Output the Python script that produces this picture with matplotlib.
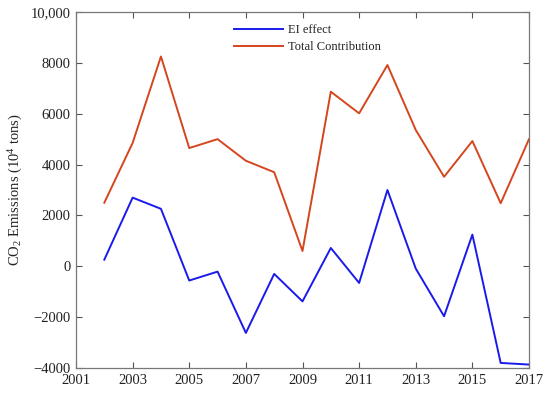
import matplotlib
matplotlib.use("Agg")
import matplotlib.pyplot as plt
from matplotlib.ticker import FuncFormatter

years = [2002, 2003, 2004, 2005, 2006, 2007, 2008, 2009, 2010, 2011, 2012, 2013, 2014, 2015, 2016, 2017]
ei_effect = [260, 2700, 2260, -560, -210, -2620, -300, -1380, 720, -655, 3000, -90, -1965, 1245, -3800, -3865]
total_contribution = [2500, 4850, 8250, 4650, 5000, 4150, 3700, 600, 6865, 6015, 7915, 5360, 3520, 4925, 2480, 5000]

xticks = [2001, 2003, 2005, 2007, 2009, 2011, 2013, 2015, 2017]
yticks = [-4000, -2000, 0, 2000, 4000, 6000, 8000, 10000]

plt.rcParams['font.family'] = ['Liberation Serif', 'DejaVu Serif']
plt.rcParams['axes.unicode_minus'] = True
plt.rcParams['mathtext.fontset'] = 'custom'
plt.rcParams['mathtext.rm'] = 'Liberation Serif'
plt.rcParams['mathtext.it'] = 'Liberation Serif:italic'
plt.rcParams['mathtext.bf'] = 'Liberation Serif:bold'

fig = plt.figure(figsize=(5.5, 3.97), dpi=100)
ax = fig.add_axes([76/550, 1 - 368/397, (529-76)/550, (368-12)/397])

ax.plot(years, ei_effect, color='#1a1aeb', lw=1.4, label='EI effect')
ax.plot(years, total_contribution, color='#d4461e', lw=1.4, label='Total Contribution')

ax.set_xlim(2001, 2017)
ax.set_ylim(-4000, 10000)
ax.set_xticks(xticks)
ax.set_yticks(yticks)

def yfmt(v, pos):
    v = int(round(v))
    if abs(v) >= 10000:
        s = f"{abs(v):,}"
    else:
        s = f"{abs(v)}"
    return ("\u2212" if v < 0 else "") + s

ax.yaxis.set_major_formatter(FuncFormatter(yfmt))
ax.tick_params(direction='in', top=True, right=True, length=4.5, width=0.8,
               labelsize=10.5, colors='#555555', labelcolor='#222222')
ax.tick_params(axis='x', pad=4)
ax.tick_params(axis='y', pad=4)
for sp in ax.spines.values():
    sp.set_color('#777777')
    sp.set_linewidth(0.9)

ax.set_ylabel('CO$_\\mathrm{2}$ Emissions (10$^\\mathrm{4}$ tons)', fontsize=10.5, color='#222222', labelpad=4)

leg = ax.legend(loc='upper left', bbox_to_anchor=((234-76)/453, 1 - 12/356), frameon=False,
                borderpad=0, borderaxespad=0,
                fontsize=9, handlelength=3.9, handletextpad=0.4, labelspacing=0.4)
for t in leg.get_texts():
    t.set_color('#222222')

fig.savefig('out.png', dpi=100)
